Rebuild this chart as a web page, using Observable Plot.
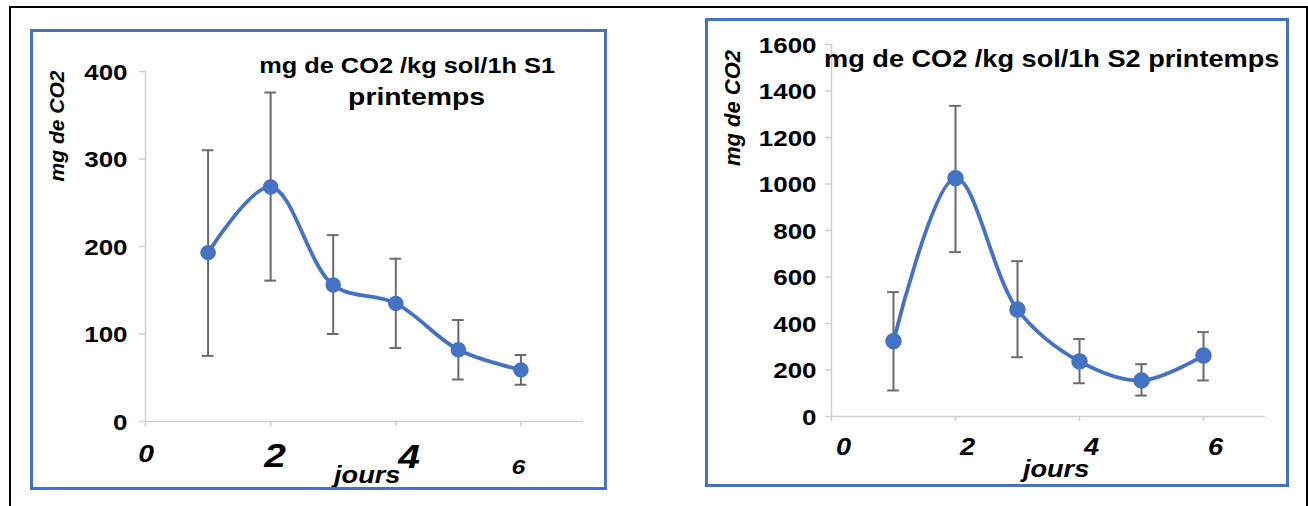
<!DOCTYPE html>
<html>
<head>
<meta charset="utf-8">
<script src="https://cdn.jsdelivr.net/npm/d3@7"></script>
<script src="https://cdn.jsdelivr.net/npm/@observablehq/plot@0.6"></script>
<style>
  html, body { margin: 0; padding: 0; background: #fff; }
  #page { position: relative; width: 1308px; height: 506px; overflow: hidden; background: #fff;
          font-family: "Liberation Sans", Arial, sans-serif; }
  .abs { position: absolute; }
  .blk { position: absolute; background: #000; }
  .blue { position: absolute; border: 3px solid #4472C4; box-sizing: border-box; }
</style>
</head>
<body>
<div id="page">
  <div class="blk" style="left:9px;top:6px;width:1299px;height:2px"></div>
  <div class="blk" style="left:9px;top:6px;width:2px;height:500px"></div>
  <div class="blk" style="left:1306px;top:6px;width:2px;height:500px"></div>
  <div id="p1" class="abs" style="left:0;top:0;width:650px;height:506px"></div>
  <div id="p2" class="abs" style="left:650px;top:0;width:658px;height:506px"></div>
  <div class="blue" style="left:30px;top:29px;width:577px;height:461px"></div>
  <div class="blue" style="left:705px;top:18px;width:584px;height:469px"></div>
</div>
<script>
// ---- data ----
const jours = [1, 2, 3, 4, 5, 6];
const s1Moyenne = [193, 268, 156, 135, 82, 59];
const s1Min = [75, 161, 100, 84, 48, 42];
const s1Max = [310, 376, 213, 186, 116, 76];
const s2Moyenne = [324, 1025, 460, 237, 155, 262];
const s2Min = [112, 707, 255, 143, 90, 155];
const s2Max = [535, 1336, 668, 333, 225, 363];
const yTicks1 = [0, 100, 200, 300, 400];
const yTicks2 = [0, 200, 400, 600, 800, 1000, 1200, 1400, 1600];
const xTicks = [0, 2, 4, 6];
const titre1a = "mg de CO2 /kg sol/1h S1";
const titre1b = "printemps";
const titre2 = "mg de CO2 /kg sol/1h S2 printemps";
const yTitre = "mg de CO2";
const xTitre = "jours";

// ---- style ----
const BLUE = "#4472C4";
const GRID = "#cfcfcf";
const ERR = "#6b6b6b";
const FONT = "Liberation Sans, Arial, sans-serif";
const SX = 1.18;

const rows1 = jours.map((j, i) => ({x: j, y: s1Moyenne[i], lo: s1Min[i], hi: s1Max[i]}));
const rows2 = jours.map((j, i) => ({x: j, y: s2Moyenne[i], lo: s2Min[i], hi: s2Max[i]}));

function stretch(svg) {
  svg.querySelectorAll("text").forEach(t => {
    const tr = t.getAttribute("transform") || "";
    if (tr.includes("rotate")) return;
    t.setAttribute("transform", `${tr} scale(${SX},1)`);
  });
}

function panel(rows, yTicks, opt) {
  const cap = opt.cap;
  const marks = [
    Plot.ruleX([0], {stroke: GRID, strokeWidth: 1.5}),
    Plot.ruleY([0], {stroke: GRID, strokeWidth: 1.5}),
    Plot.axisY({ticks: yTicks, tickSize: 6, stroke: GRID, strokeWidth: 1.5, tickFormat: () => "", label: null}),
    Plot.axisX({ticks: xTicks, tickSize: 5, stroke: GRID, strokeWidth: 1.5, tickFormat: () => "", label: null}),
    Plot.text(yTicks, {frameAnchor: "left", y: d => d, text: d => String(d), textAnchor: "end",
      dx: opt.yLabDx, dy: 1, lineAnchor: "middle", fontSize: opt.yLabSize, fontWeight: "bold", fill: "#000"}),
    ...xTicks.map((t, i) => Plot.text([t], {frameAnchor: "bottom", x: d => d, text: d => String(d),
      textAnchor: "middle", lineAnchor: "bottom", dx: opt.xLabDx[i], dy: opt.xLabDy[i],
      fontSize: opt.xLabSize[i], fontWeight: "bold", fontStyle: "italic", fill: "#000"})),
    Plot.ruleX(rows, {x: "x", y1: "lo", y2: "hi", stroke: ERR, strokeWidth: 2}),
    Plot.ruleY(rows, {y: "hi", x1: d => d.x - cap, x2: d => d.x + cap, stroke: ERR, strokeWidth: 2}),
    Plot.ruleY(rows, {y: "lo", x1: d => d.x - cap, x2: d => d.x + cap, stroke: ERR, strokeWidth: 2}),
    Plot.line(rows, {x: "x", y: "y", curve: "catmull-rom", stroke: BLUE, strokeWidth: 3.8}),
    Plot.dot(rows, {x: "x", y: "y", r: opt.r, fill: BLUE, stroke: BLUE}),
    Plot.text([yTitre], {frameAnchor: "top-left", text: d => d, rotate: -90, textAnchor: "middle",
      lineAnchor: "bottom", dx: opt.yTitle[0], dy: opt.yTitle[1], fontSize: opt.yTitle[2],
      fontWeight: "bold", fontStyle: "italic", fill: "#000"}),
    Plot.text([xTitre], {frameAnchor: "bottom-left", text: d => d, textAnchor: "middle",
      lineAnchor: "bottom", dx: opt.xTitle[0], dy: opt.xTitle[1], fontSize: opt.xTitle[2],
      fontWeight: "bold", fontStyle: "italic", fill: "#000"}),
    ...opt.titles.map(tt => Plot.text([tt.t], {frameAnchor: "top-left", text: d => d,
      textAnchor: tt.anchor, lineAnchor: "bottom", dx: tt.dx, dy: tt.dy, fontSize: tt.size,
      fontWeight: "bold", fill: "#000"}))
  ];
  const svg = Plot.plot({
    width: opt.width, height: 506,
    marginLeft: opt.ml, marginRight: opt.mr, marginTop: opt.mt, marginBottom: opt.mb,
    x: {domain: [0, 7]},
    y: {domain: [0, yTicks[yTicks.length - 1]]},
    style: {background: "transparent", overflow: "visible", fontFamily: FONT},
    marks
  });
  stretch(svg);
  return svg;
}

document.getElementById("p1").append(panel(rows1, yTicks1, {
  width: 650, ml: 145, mr: 67, mt: 71, mb: 85, cap: 0.093, r: 7,
  yLabDx: -18, yLabSize: 22,
  xLabDx: [0.5, 4.5, 13.4, -2.5], xLabDy: [40, 45, 46, 52], xLabSize: [24, 33, 33, 21],
  yTitle: [-82, 54.5, 21], xTitle: [221.7, 61.7, 23],
  titles: [
    {t: titre1a, anchor: "middle", dx: 261.6, dy: 1.7, size: 21.5},
    {t: titre1b, anchor: "middle", dx: 271, dy: 33, size: 24}
  ]
}));

document.getElementById("p2").append(panel(rows2, yTicks2, {
  width: 658, ml: 181, mr: 43, mt: 44, mb: 90, cap: 0.094, r: 7.5,
  yLabDx: -15, yLabSize: 22,
  xLabDx: [12, 12, 12, 12], xLabDy: [38, 38, 38, 38], xLabSize: [23, 23, 23, 23],
  yTitle: [-92, 63.5, 22], xTitle: [224.6, 60.7, 23],
  titles: [
    {t: titre2, anchor: "start", dx: -7.4, dy: 22.7, size: 23}
  ]
}));
</script>
</body>
</html>
